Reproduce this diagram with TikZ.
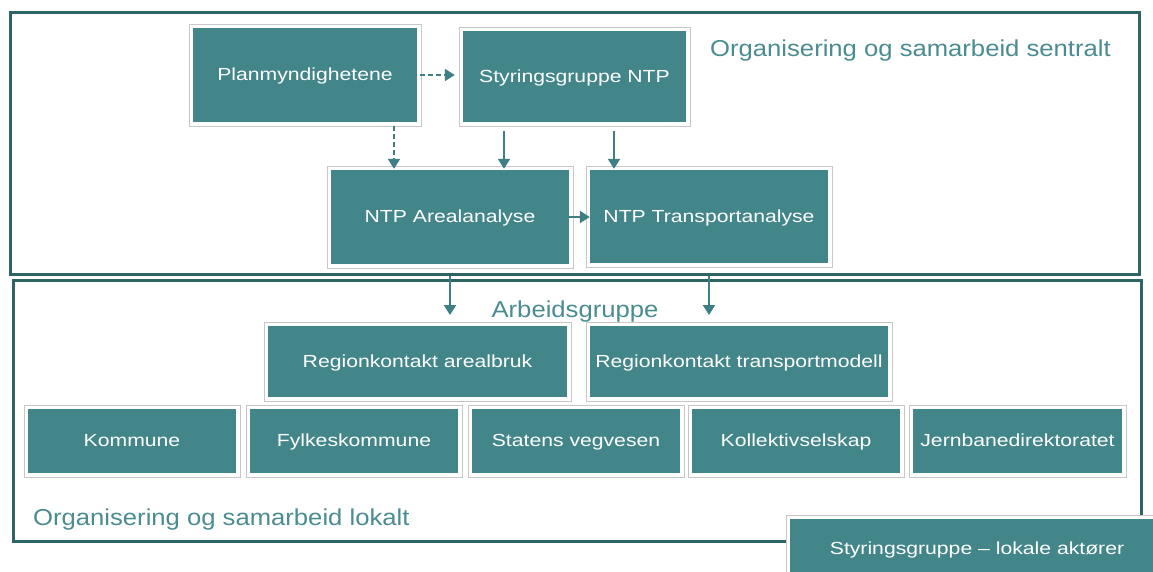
\documentclass[tikz,border=0pt]{standalone}
\usepackage{fontspec}
\setmainfont{Liberation Sans}
\usepackage{graphicx}
\usetikzlibrary{arrows.meta}
\definecolor{tealbox}{RGB}{66,134,138}
\definecolor{darkframe}{RGB}{46,100,100}
\definecolor{titlec}{RGB}{74,140,144}
\definecolor{arrc}{RGB}{61,127,131}
\newcommand\bxtext[1]{\scalebox{1.21}[1]{#1}}
\newcommand\ttltext[1]{\scalebox{1.115}[1]{#1}}
\newcommand\bx[6]{%
  \draw[boxframe] (#2-4,#3-4) rectangle (#4+4,#5+4);
  \node[box, minimum width=#4-#2, minimum height=#5-#3] (#1) at ({(#2+#4)/2},{(#3+#5)/2}) {\bxtext{#6}};}
\begin{document}
\begin{tikzpicture}[x=1pt,y=-1pt,
  box/.style={fill=tealbox, text=white, inner sep=0pt, font=\fontsize{17.5}{20}\selectfont, text depth=1pt},
  boxframe/.style={draw=black!22, line width=0.8pt, fill=white},
  region/.style={draw=darkframe, line width=3pt, inner sep=0pt},
  ttl/.style={text=titlec, font=\fontsize{23}{26}\selectfont, inner sep=0pt},
  arr/.style={draw=arrc, line width=2pt, -{Triangle[width=12pt,length=10pt]}},
  darr/.style={arr, dash pattern=on 5pt off 3pt}]
\useasboundingbox (0,0) rectangle (1153,572);
\clip (0,0) rectangle (1153,572);
\fill[white] (0,0) rectangle (1153,572);
% regions
\node[region, minimum width=1129, minimum height=261] (sentral) at (574.5,143.5) {};
\node[region, minimum width=1128, minimum height=261] (lokal) at (577,410.5) {};
% titles
\node[ttl, anchor=west] (tsentral) at (710,51) {\ttltext{Organisering og samarbeid sentralt}};
\node[ttl] (arb) at (575,312) {\ttltext{Arbeidsgruppe}};
\node[ttl, anchor=west] (tlokal) at (33,520) {\ttltext{Organisering og samarbeid lokalt}};
% boxes
\bx{plan}{193}{28}{417}{122}{Planmyndighetene}
\bx{styr}{463}{31}{686}{122}{Styringsgruppe NTP}
\bx{areal}{331}{170}{569}{264}{NTP Arealanalyse}
\bx{transp}{590}{170}{828}{263}{NTP Transportanalyse}
\bx{rega}{268}{326}{567}{397}{Regionkontakt arealbruk}
\bx{regt}{590}{326}{888}{397}{Regionkontakt transportmodell}
\bx{kom}{28}{409}{236}{473}{Kommune}
\bx{fylk}{250}{409}{458}{473}{Fylkeskommune}
\bx{svv}{472}{409}{680}{473}{Statens vegvesen}
\bx{koll}{692}{409}{900}{473}{Kollektivselskap}
\bx{jbd}{913}{409}{1122}{473}{Jernbanedirektoratet}
\bx{styrlok}{790}{519}{1164}{578}{Styringsgruppe -- lokale aktører}
% arrows
\coordinate (xa) at (394,0);
\coordinate (xb) at (504,0);
\coordinate (xc) at (614,0);
\draw[darr] ([xshift=3pt]plan.east) -- ([xshift=-8pt]styr.west |- plan.east);
\draw[darr] ([yshift=-4pt]plan.south -| xa) -- ([yshift=1pt]areal.north -| xa);
\draw[arr] ([yshift=-9pt]styr.south -| xb) -- ([yshift=1pt]areal.north -| xb);
\draw[arr] ([yshift=-9pt]styr.south -| xc) -- ([yshift=1pt]transp.north -| xc);
\draw[arr] (areal.east) -- (areal.east -| transp.west);
\draw[arr] (sentral.south -| areal.south) -- ([yshift=-3pt]arb.center -| areal.south);
\draw[arr] (sentral.south -| transp.south) -- ([yshift=-3pt]arb.center -| transp.south);
\end{tikzpicture}
\end{document}
